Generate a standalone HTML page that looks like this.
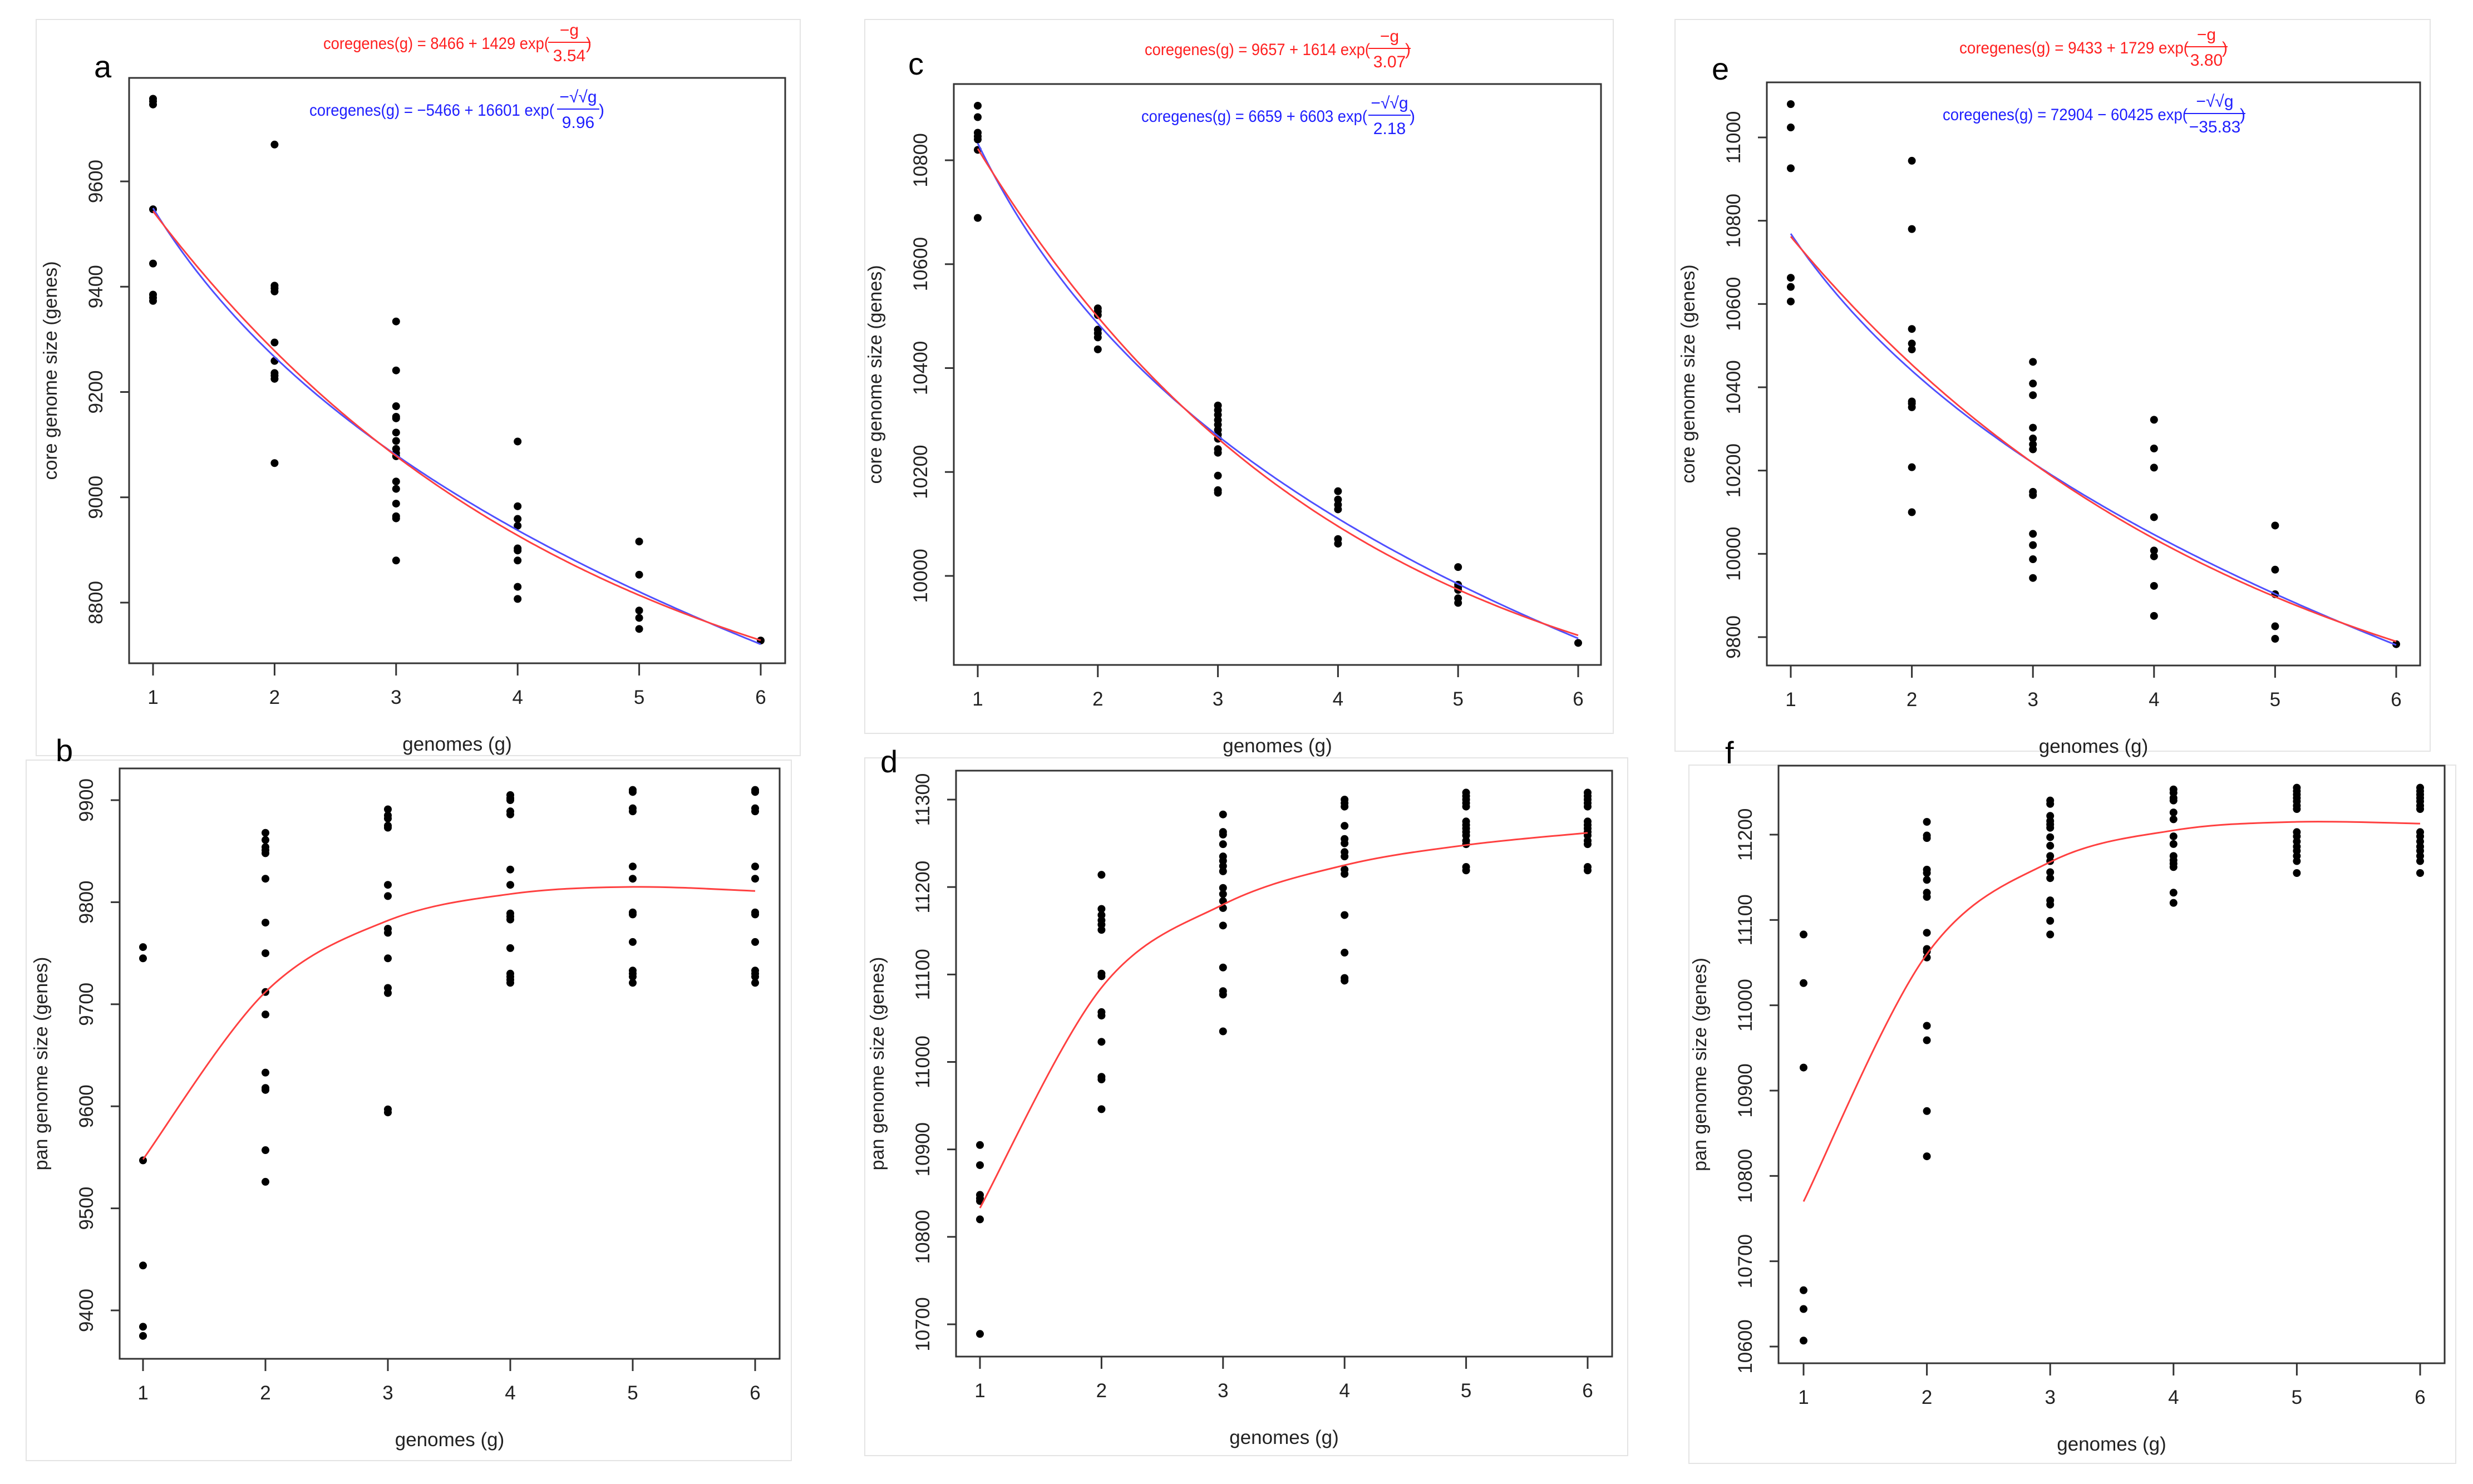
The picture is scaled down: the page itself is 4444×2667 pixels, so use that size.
<!DOCTYPE html>
<html><head><meta charset="utf-8">
<style>
html,body{margin:0;padding:0;background:#fff;}
svg{display:block;font-family:"Liberation Sans",Arial,sans-serif;}
</style></head>
<body>
<svg id="fig" width="4444" height="2667" viewBox="0 0 4444 2667" xmlns="http://www.w3.org/2000/svg">
<rect x="0" y="0" width="4444" height="2667" fill="#fff"/>
</svg>
<script>
// ---- data ----
const genomeTicks = [1,2,3,4,5,6];
// core genome (panels a, c, e): values per genome count 1..6
const coreA = [[9757,9752,9746,9547,9444,9385,9379,9373],[9670,9402,9397,9391,9294,9259,9236,9231,9225,9065],[9334,9241,9173,9153,9150,9123,9107,9092,9084,9078,9030,9016,8988,8964,8960,8880],[9106,8983,8959,8946,8903,8899,8880,8830,8807],[8916,8853,8785,8771,8750],[8728]];
const coreC = [[10905,10883,10853,10846,10840,10820,10689],[10515,10509,10502,10474,10467,10459,10436],[10328,10319,10310,10300,10291,10281,10272,10264,10244,10237,10193,10165,10160],[10163,10147,10137,10128,10071,10062],[10017,9983,9978,9973,9957,9948],[9871]];
const coreE = [[11080,11024,10926,10663,10641,10606],[10944,10780,10540,10505,10491,10366,10361,10352,10208,10100],[10461,10409,10381,10303,10277,10263,10251,10149,10141,10048,10021,9987,9942],[10322,10253,10207,10088,10008,9994,9923,9851],[10068,9962,9903,9826,9796],[9783]];
// pan genome (panels b, d, f)
const panB = [[9756,9745,9547,9444,9384,9375],[9868,9861,9854,9851,9848,9823,9780,9750,9712,9690,9633,9618,9616,9557,9526],[9891,9885,9882,9875,9873,9817,9806,9774,9770,9745,9716,9711,9597,9594],[9905,9902,9900,9889,9886,9832,9817,9789,9786,9783,9755,9730,9727,9724,9721],[9910,9908,9892,9889,9835,9823,9790,9788,9761,9733,9730,9727,9721],[9910,9908,9892,9889,9835,9823,9790,9788,9761,9733,9730,9727,9721]];
const panD = [[10905,10882,10848,10844,10841,10820,10689],[11214,11175,11168,11162,11157,11151,11101,11098,11057,11053,11023,10983,10980,10946],[11283,11263,11260,11249,11235,11230,11224,11218,11199,11192,11184,11176,11156,11108,11081,11077,11035],[11300,11296,11292,11270,11255,11250,11240,11235,11220,11215,11168,11125,11096,11093],[11308,11304,11300,11296,11292,11275,11271,11267,11263,11259,11253,11249,11223,11219],[11308,11304,11300,11296,11292,11275,11271,11267,11263,11259,11253,11249,11223,11219]];
const panF = [[11083,11026,10927,10666,10644,10607],[11215,11199,11196,11159,11155,11147,11132,11127,11085,11066,11063,11056,10976,10959,10876,10823],[11240,11236,11222,11216,11212,11208,11197,11187,11175,11169,11156,11149,11123,11118,11099,11083],[11253,11249,11243,11240,11226,11218,11198,11189,11175,11170,11166,11162,11132,11120],[11255,11251,11247,11243,11239,11234,11230,11203,11198,11192,11186,11181,11175,11169,11155],[11255,11251,11247,11243,11239,11234,11230,11203,11198,11192,11186,11181,11175,11169,11155]];
// fitted model parameters (core): [a, b, c] from printed equations
const redA = [8466,1429,3.54], blueA = [-5466,16601,9.96];
const redC = [9657,1614,3.07], blueC = [6659,6603,2.18];
const redE = [9433,1729,3.80], blueE = [72904,-60425,-35.83];
// pan fitted curve values at g=1..6
const panCurveB = [9548,9712,9782,9808,9815,9811];
const panCurveD = [10833,11085,11180,11225,11248,11262];
const panCurveF = [10770,11060,11168,11205,11215,11213];
// tick labels
const ticksA = [8800,9000,9200,9400,9600];
const ticksC = [10000,10200,10400,10600,10800];
const ticksE = [9800,10000,10200,10400,10600,10800,11000];
const ticksB = [9400,9500,9600,9700,9800,9900];
const ticksD = [10700,10800,10900,11000,11100,11200,11300];
const ticksF = [10600,10700,10800,10900,11000,11100,11200];

const NS = "http://www.w3.org/2000/svg";
const svg = document.getElementById('fig');
function mk(tag, attrs, parent){
  const e = document.createElementNS(NS, tag);
  for (const k in attrs) e.setAttribute(k, attrs[k]);
  (parent||svg).appendChild(e);
  return e;
}

const panels = [
 {id:'a',L:232,R:1411,T:140,B:1192,g1:275,g6:1367,v1:8800,p1:1083,v2:9600,p2:326,data:coreA,ticks:ticksA,ytitle:'core genome size (genes)',letter:[169,139],frame:[65,35,1438,1358],
  eq:{red:{txt:'coregenes(g) = 8466 + 1429 exp(',x:581,w:406,fc:1023,cp:1058,num:'\u2212g',den:'3.54'},blue:{txt:'coregenes(g) = \u22125466 + 16601 exp(',x:556,w:440,fc:1039,cp:1081,num:'\u2212\u221A\u221Ag',den:'9.96'}},red:redA,blue:blueA},
 {id:'c',L:1714,R:2877,T:151,B:1195,g1:1757,g6:2836,v1:10000,p1:1035,v2:10800,p2:288,data:coreC,ticks:ticksC,ytitle:'core genome size (genes)',letter:[1632,134],frame:[1554,35,2899,1318],
  eq:{red:{txt:'coregenes(g) = 9657 + 1614 exp(',x:2057,w:405,fc:2497,cp:2530,num:'\u2212g',den:'3.07'},blue:{txt:'coregenes(g) = 6659 + 6603 exp(',x:2051,w:406,fc:2497,cp:2538,num:'\u2212\u221A\u221Ag',den:'2.18'}},red:redC,blue:blueC},
 {id:'e',L:3175,R:4349,T:148,B:1196,g1:3218,g6:4306,v1:9800,p1:1145,v2:11000,p2:247,data:coreE,ticks:ticksE,ytitle:'core genome size (genes)',letter:[3076,143],frame:[3010,35,4367,1350],
  eq:{red:{txt:'coregenes(g) = 9433 + 1729 exp(',x:3521,w:412,fc:3965,cp:3998,num:'\u2212g',den:'3.80'},blue:{txt:'coregenes(g) = 72904 \u2212 60425 exp(',x:3491,w:440,fc:3980,cp:4030,num:'\u2212\u221A\u221Ag',den:'\u221235.83'}},red:redE,blue:blueE},
 {id:'b',L:215,R:1401,T:1381,B:2442,g1:257,g6:1357,v1:9400,p1:2355,v2:9900,p2:1438,data:panB,ticks:ticksB,ytitle:'pan genome size (genes)',letter:[100,1368],frame:[47,1366,1422,2625],pan:panCurveB},
 {id:'d',L:1718,R:2897,T:1385,B:2438,g1:1761,g6:2853,v1:10700,p1:2380,v2:11300,p2:1437,data:panD,ticks:ticksD,ytitle:'pan genome size (genes)',letter:[1582,1388],frame:[1554,1362,2925,2616],pan:panCurveD},
 {id:'f',L:3196,R:4393,T:1376,B:2450,g1:3241,g6:4349,v1:10600,p1:2420,v2:11200,p2:1500,data:panF,ticks:ticksF,ytitle:'pan genome size (genes)',letter:[3100,1372],frame:[3035,1375,4413,2630],pan:panCurveF}
];

panels.forEach(p=>{
  const xs = g => p.g1 + (g-1)*(p.g6-p.g1)/5;
  const ys = v => p.p1 + (v-p.v1)*(p.p2-p.p1)/(p.v2-p.v1);
  const grp = mk('g',{});
  
  
  const fr = mk('rect',{x:p.frame[0],y:p.frame[1],width:p.frame[2]-p.frame[0],height:p.frame[3]-p.frame[1],fill:'none',stroke:'#e4e4e4','stroke-width':2},grp);
  
  
  const lt = mk('text',{x:p.letter[0],y:p.letter[1],'font-size':56,fill:'#000'},grp);
  lt.textContent = p.id;
  
  
  // points
  p.data.forEach((vals,i)=>{
    vals.forEach(v=>{
      const c = mk('circle',{cx:xs(genomeTicks[i]),cy:ys(v),r:7,fill:'#000'},grp);
      
      
    });
  });
  // curves
  if (p.red){
    const fr_ = g => p.red[0]+p.red[1]*Math.exp(-g/p.red[2]);
    const fb_ = g => p.blue[0]+p.blue[1]*Math.exp(-Math.sqrt(Math.sqrt(g))/p.blue[2]);
    let dr='', db='';
    for(let i=0;i<=200;i++){const g=1+5*i/200;
      dr+=(i?'L':'M')+xs(g).toFixed(1)+','+ys(fr_(g)).toFixed(1);
      db+=(i?'L':'M')+xs(g).toFixed(1)+','+ys(fb_(g)).toFixed(1);}
    const pb = mk('path',{d:db,fill:'none',stroke:'#5050ff','stroke-width':3},grp);
    
    
    const pr = mk('path',{d:dr,fill:'none',stroke:'#ff4040','stroke-width':3},grp);
    
    
    // equations
    [['red','#ff2020',p.T-52,-88,-29],['blue','#2020ff',p.T+68,-34,26]].forEach(([k,col,base,nOff,dOff])=>{
      const e = p.eq[k];
      const eg = mk('g',{fill:col,'font-size':30},grp);
      
      
      const t = mk('text',{x:e.x,y:base,textLength:e.w,lengthAdjust:'spacingAndGlyphs'},eg); t.textContent=e.txt;
      const n = mk('text',{x:e.fc,y:base+nOff+base*0-0+ (k==='red'?12:-10)+ (k==='red'?0:0),'text-anchor':'middle'},eg); n.textContent=e.num;
      n.setAttribute('y', base-24);
      const fw = e.den.length*17+8;
      mk('line',{x1:e.fc-fw/2,x2:e.fc+fw/2,y1:base-12,y2:base-12,stroke:col,'stroke-width':2},eg);
      const d = mk('text',{x:e.fc,y:base+22,'text-anchor':'middle'},eg); d.textContent=e.den;
      const cp = mk('text',{x:e.cp,y:base,'text-anchor':'middle'},eg); cp.textContent=')';
    });
  } else {
    // Catmull-Rom through pan curve values
    const pts = p.pan.map((v,i)=>[xs(genomeTicks[i]),ys(v)]);
    let d='M'+pts[0][0]+','+pts[0][1];
    for(let i=0;i<pts.length-1;i++){
      const p0=pts[Math.max(0,i-1)],p1=pts[i],p2=pts[i+1],p3=pts[Math.min(pts.length-1,i+2)];
      const c1=[p1[0]+(p2[0]-p0[0])/6,p1[1]+(p2[1]-p0[1])/6];
      const c2=[p2[0]-(p3[0]-p1[0])/6,p2[1]-(p3[1]-p1[1])/6];
      d+=`C${c1[0].toFixed(1)},${c1[1].toFixed(1)} ${c2[0].toFixed(1)},${c2[1].toFixed(1)} ${p2[0].toFixed(1)},${p2[1].toFixed(1)}`;
    }
    const pc = mk('path',{d:d,fill:'none',stroke:'#ff4040','stroke-width':3},grp);
    
    
  }
  // box
  const bx = mk('rect',{x:p.L,y:p.T,width:p.R-p.L,height:p.B-p.T,fill:'none',stroke:'#333','stroke-width':3},grp);
  
  
  // x ticks
  genomeTicks.forEach(g=>{
    mk('line',{x1:xs(g),x2:xs(g),y1:p.B,y2:p.B+22,stroke:'#333','stroke-width':3},grp);
    const t = mk('text',{x:xs(g),y:p.B+73,'font-size':35,'text-anchor':'middle',fill:'#222'},grp);
    t.textContent = g;
    
    
  });
  // y ticks
  p.ticks.forEach(v=>{
    const y = ys(v);
    mk('line',{x1:p.L-16,x2:p.L,y1:y,y2:y,stroke:'#333','stroke-width':3},grp);
    const t = mk('text',{x:0,y:0,'font-size':35,'text-anchor':'middle',fill:'#222',transform:`translate(${p.L-48},${y}) rotate(-90)`},grp);
    t.textContent = v;
    
    
  });
  const xt = mk('text',{x:(p.L+p.R)/2,y:p.B+157,'font-size':35,'text-anchor':'middle',fill:'#222'},grp);
  xt.textContent='genomes (g)';
  
  
  const yt = mk('text',{x:0,y:0,'font-size':34,'text-anchor':'middle',fill:'#222',transform:`translate(${p.L-130},${(p.T+p.B)/2}) rotate(-90)`},grp);
  yt.textContent=p.ytitle;
  
  
});
</script>
</body></html>
